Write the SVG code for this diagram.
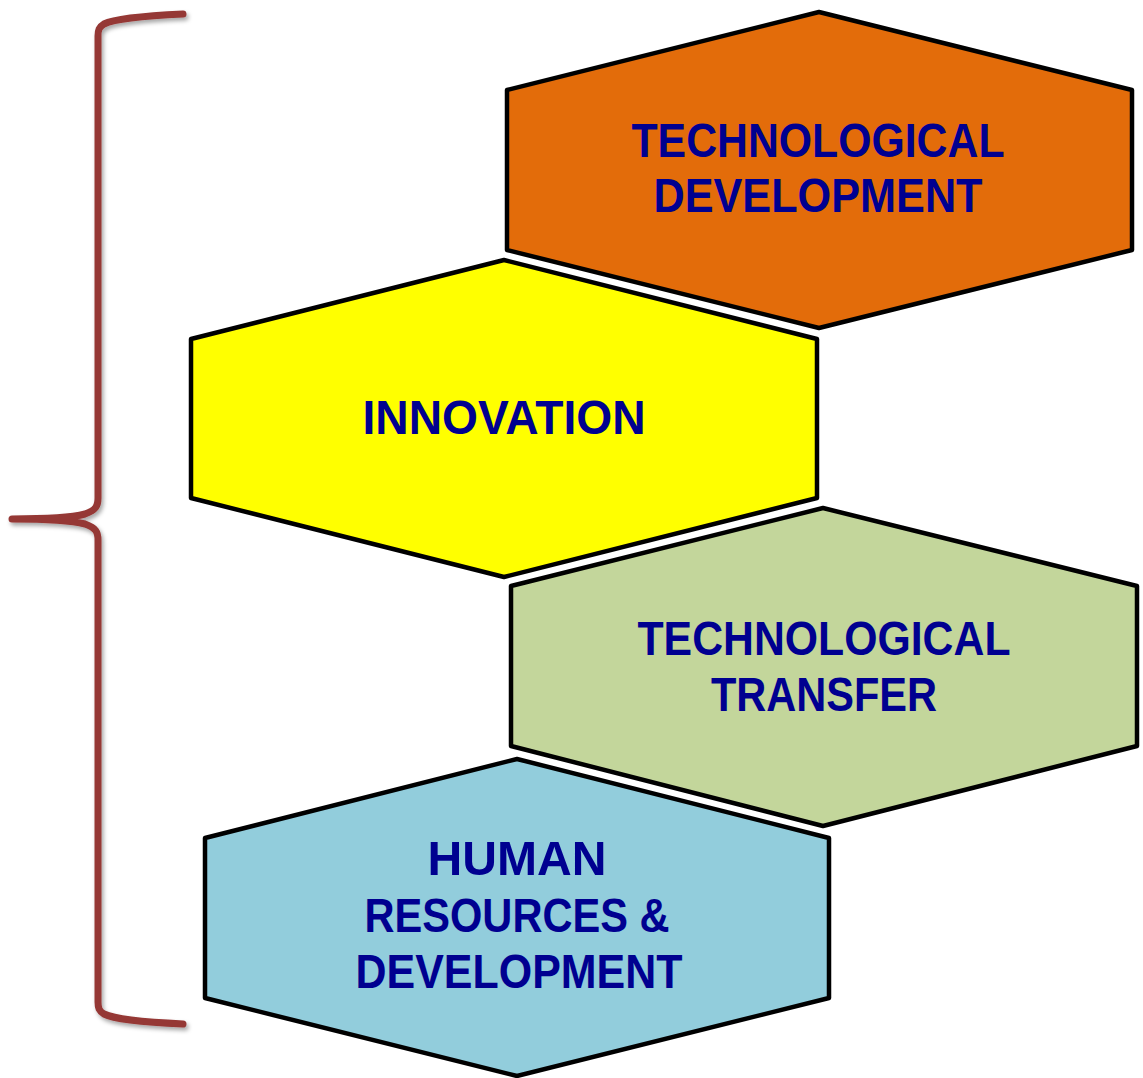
<svg xmlns="http://www.w3.org/2000/svg" width="1143" height="1078" viewBox="0 0 1143 1078">
<style>
.hex{stroke:#000;stroke-width:4.5;stroke-linejoin:round}
.t{font-family:"Liberation Sans",Arial,sans-serif;font-weight:bold;font-size:48px;fill:#000090;text-anchor:middle}
.brace{fill:none;stroke:#953735;stroke-width:7;stroke-linecap:round;stroke-linejoin:round}
</style>
<defs>
<filter id="sh" x="-20%" y="-5%" width="140%" height="110%">
<feDropShadow dx="2" dy="3" stdDeviation="2" flood-color="#000" flood-opacity="0.35"/>
</filter>
</defs>
<rect width="1143" height="1078" fill="#fff"/>
<g id="connectors">
<path class="brace" filter="url(#sh)" d="M183,14 C140,16 112,20 104,24 C99,27 98,30 98,36 L98,498 C98,506 96,510 85,514 C70,518 40,519 12,519 C40,519 70,520 85,524 C96,528 98,532 98,540 L98,1002 C98,1008 99,1011 104,1014 C112,1018 140,1022 183,1024"/>
</g>
<g id="node-tech-dev">
<polygon class="hex" fill="#E36C0A" points="507,90 819,12 1132,90 1132,250 819,328 507,250"/>
<text class="t" x="818" y="157" textLength="373" lengthAdjust="spacingAndGlyphs">TECHNOLOGICAL</text>
<text class="t" x="818" y="212" textLength="329" lengthAdjust="spacingAndGlyphs">DEVELOPMENT</text>
</g>
<g id="node-innovation">
<polygon class="hex" fill="#FFFF00" points="191,339 504,260 817,339 817,498 504,577 191,498"/>
<text class="t" x="504" y="434" textLength="283" lengthAdjust="spacingAndGlyphs">INNOVATION</text>
</g>
<g id="node-tech-transfer">
<polygon class="hex" fill="#C3D69B" points="511,586 823,508 1137,586 1137,746 823,826 511,746"/>
<text class="t" x="824" y="655" textLength="373" lengthAdjust="spacingAndGlyphs">TECHNOLOGICAL</text>
<text class="t" x="824" y="711" textLength="226" lengthAdjust="spacingAndGlyphs">TRANSFER</text>
</g>
<g id="node-human-resources">
<polygon class="hex" fill="#92CDDC" points="205,838 517,759 829,838 829,998 517,1076 205,998"/>
<text class="t" x="517" y="875" textLength="179" lengthAdjust="spacingAndGlyphs">HUMAN</text>
<text class="t" x="517" y="932" textLength="305" lengthAdjust="spacingAndGlyphs">RESOURCES &amp;</text>
<text class="t" x="519" y="988" textLength="327" lengthAdjust="spacingAndGlyphs">DEVELOPMENT</text>
</g>
</svg>
